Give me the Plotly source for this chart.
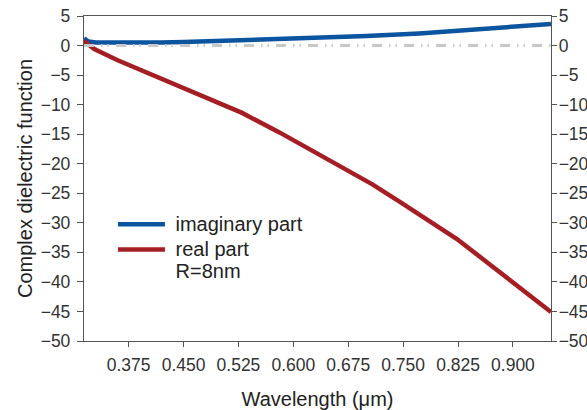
import plotly.graph_objects as go

# Complex dielectric function of a gold-like nanoparticle (R = 8 nm)
wl_imag = [0.314, 0.320, 0.330, 0.375, 0.420, 0.450, 0.495, 0.550, 0.600,
           0.636, 0.700, 0.772, 0.820, 0.864, 0.910, 0.952]
eps_imag = [1.2, 0.7, 0.5, 0.45, 0.5, 0.6, 0.75, 1.0, 1.2,
            1.4, 1.6, 2.05, 2.45, 2.85, 3.25, 3.65]

wl_real = [0.314, 0.318, 0.328, 0.360, 0.405, 0.450, 0.495, 0.530, 0.581,
           0.636, 0.663, 0.708, 0.745, 0.776, 0.823, 0.868, 0.913, 0.952]
eps_real = [0.8, 0.4, -0.6, -2.5, -4.9, -7.2, -9.5, -11.4, -14.7,
            -18.5, -20.4, -23.5, -26.4, -28.9, -32.7, -37.0, -41.3, -45.1]

x_ticks = [0.375, 0.450, 0.525, 0.600, 0.675, 0.750, 0.825, 0.900]
y_ticks = [5, 0, -5, -10, -15, -20, -25, -30, -35, -40, -45, -50]
x_range = [0.314, 0.952]
y_range = [-50, 5]

BLUE = "#0b54a0"
RED = "#a51e23"
AXIS = "#555555"
FONT = "Liberation Sans, Arial, sans-serif"


def legend_label(text):
    # larger text than the legend's own font size, which keeps rows compact
    return "<span style='font-size:20px'>\u00a0" + text + "</span>"


fig = go.Figure()

# zero reference line
fig.add_trace(go.Scatter(
    x=x_range, y=[0, 0], mode="lines", showlegend=False, hoverinfo="skip",
    line=dict(color="#c8c8c8", width=3, dash="10px,7px,1.5px,5px,1.5px,7px"),
    yaxis="y2",
))
fig.add_trace(go.Scatter(
    x=wl_imag, y=eps_imag, mode="lines", name=legend_label("imaginary part"),
    line=dict(color=BLUE, width=4.5),
))
fig.add_trace(go.Scatter(
    x=wl_real, y=eps_real, mode="lines",
    name=legend_label("real part") + "<br>" + legend_label("R=8nm"),
    line=dict(color=RED, width=4.5),
))

fig.update_layout(
    width=587, height=410,
    margin=dict(l=84, r=36, t=16, b=69),
    paper_bgcolor="white", plot_bgcolor="white",
    font=dict(family=FONT, size=17.5, color="#333333"),
    showlegend=True,
    legend=dict(
        x=0.062, y=0.413, xanchor="left", yanchor="top", valign="top",
        bgcolor="rgba(0,0,0,0)", font=dict(size=17, color="#222222"),
        itemwidth=47, tracegroupgap=0,
    ),
    xaxis=dict(
        range=x_range, tickvals=x_ticks, tickformat=".3f", automargin=False,
        showline=True, linecolor=AXIS, linewidth=1.3, mirror=True,
        ticks="outside", ticklen=5, tickcolor=AXIS,
        showgrid=False, zeroline=False,
        ticklabelstandoff=3,
        title=dict(text="Wavelength (μm)", font=dict(size=20, color="#222222"), standoff=21),
    ),
    yaxis=dict(
        range=y_range, tickvals=y_ticks, automargin=False,
        showline=True, linecolor=AXIS, linewidth=1.3,
        ticks="outside", ticklen=6, tickcolor=AXIS,
        showgrid=False, zeroline=False,
        ticklabelstandoff=3,
        title=dict(text="Complex dielectric function", font=dict(size=20, color="#222222"), standoff=2),
    ),
    yaxis2=dict(
        range=y_range, tickvals=y_ticks, overlaying="y", side="right", automargin=False,
        showline=True, linecolor=AXIS, linewidth=1.3,
        ticks="outside", ticklen=5, tickcolor=AXIS,
        showgrid=False, zeroline=False,
        ticklabelstandoff=-2,
    ),
)

fig.write_html("out.html")
